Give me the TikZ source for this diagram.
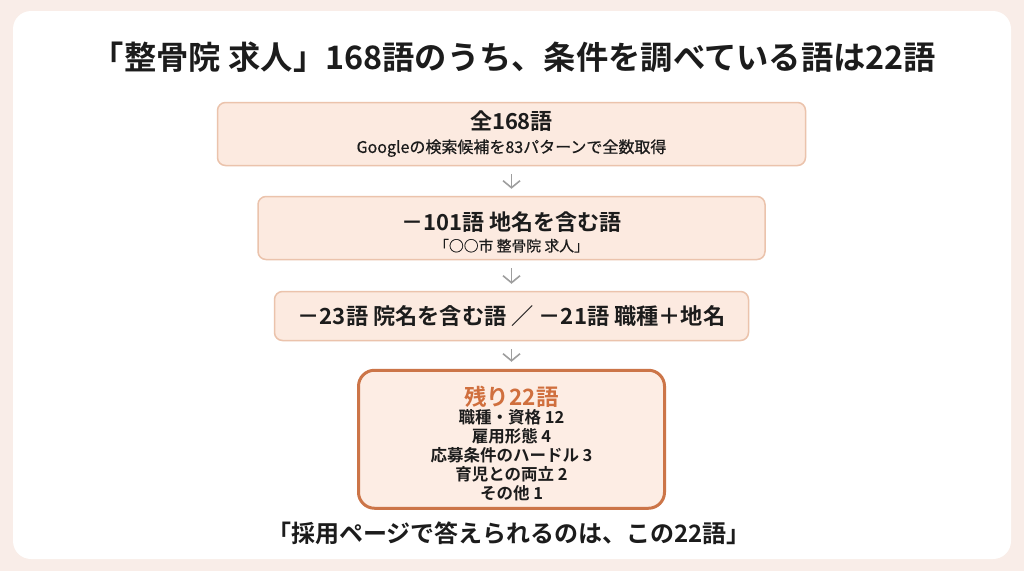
\documentclass[tikz,border=0pt]{standalone}
\usepackage{fontspec}
\setmainfont{Noto Sans CJK JP}[BoldFont={Noto Sans CJK JP Bold}]
\newfontfamily\medium{Noto Sans CJK JP}[FakeBold=0.6]
\usetikzlibrary{arrows.meta}
\usetikzlibrary{positioning}
\definecolor{pagebg}{HTML}{F9EDE8}
\definecolor{stagefill}{HTML}{FCEAE0}
\definecolor{stageline}{HTML}{EBC3AC}
\definecolor{restfill}{HTML}{FDEDE4}
\definecolor{restline}{HTML}{CC7548}
\definecolor{resttext}{HTML}{D06F3E}
\definecolor{arrowgray}{HTML}{9E9E9E}
\definecolor{ink}{HTML}{1C1C1C}
\newcommand\topgap[1]{\rule{0pt}{#1}}
\tikzset{
    stage/.style = {draw=stageline, fill=stagefill, line width=1.5pt, rounded corners=8pt,
                 inner sep=0pt, align=center, text=ink},
    rest/.style = {stage, draw=restline, fill=restfill, line width=3pt, rounded corners=16pt},
    flow/.style = {->, >={Straight Barb[length=7pt,width=17pt]}, draw=arrowgray,
                 line width=1.6pt, shorten <=8pt, shorten >=7pt},
}

\begin{document}
\begin{tikzpicture}[x=1pt,y=-1pt]
\fill[pagebg] (0,0) rectangle (1024,571);
\fill[white, rounded corners=18pt] (13,11) rectangle (1011,559);

\node (head) at (514,57) [font=\fontsize{32.3}{36}\bfseries, text=ink]
 {「整骨院 求人」168語のうち、条件を調べている語は22語};

\node (all) at (511.5,134) [stage, minimum width=588pt, minimum height=63pt,
 font=\fontsize{16}{23}\medium]
 {{\fontsize{22}{28}\normalfont\bfseries 全168語}\\ Googleの検索候補を83パターンで全数取得};
\node (area) [stage, minimum width=507pt, minimum height=63pt, below=29.5pt of all,
 font=\fontsize{14.8}{21}\medium]
 {\topgap{27pt}{\fontsize{22}{28}\normalfont\bfseries －101語 地名を含む語}\\ 「○○市 整骨院 求人」};
\node (clinic) [stage, minimum width=474pt, minimum height=49pt, below=30.5pt of area,
 font=\fontsize{22.2}{26}\bfseries]
 {－23語 院名を含む語 ／ －21語 職種＋地名};
\node (rest) [rest, minimum width=306pt, minimum height=138pt, below=27.5pt of clinic,
 font=\fontsize{16.5}{18.8}\bfseries]
 {\topgap{27pt}{\color{resttext}\fontsize{22.5}{26}\selectfont 残り22語}\\
  職種・資格 12\\ 雇用形態 4\\ 応募条件のハードル 3\\ 育児との両立 2\\ その他 1};

\node (close) at (509,533.5) [font=\fontsize{24}{28}\bfseries, text=ink]
 {「採用ページで答えられるのは、この22語」};

\draw[flow] (all) to (area);
\draw[flow] (area) to (clinic);
\draw[flow] (clinic) to (rest);
\end{tikzpicture}
\end{document}
